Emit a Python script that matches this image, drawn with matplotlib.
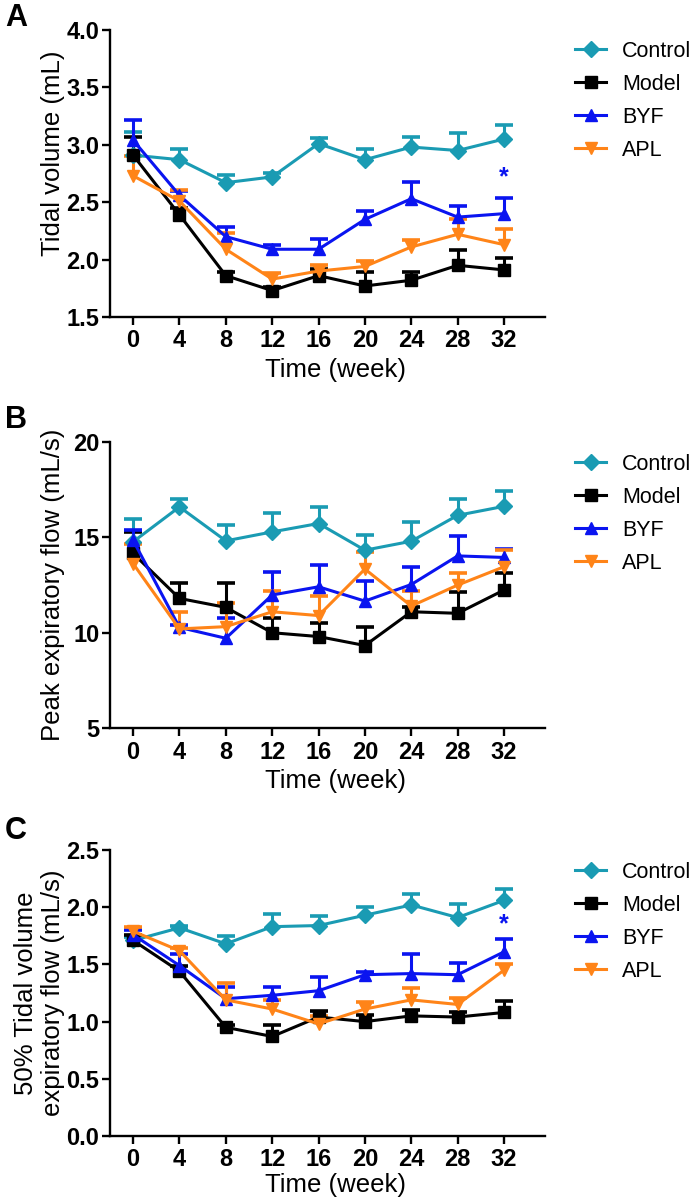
import numpy as np
import matplotlib
matplotlib.use('Agg')
import matplotlib.pyplot as plt

plt.rcParams['font.family'] = ['Liberation Sans', 'DejaVu Sans']

weeks = [0, 4, 8, 12, 16, 20, 24, 28, 32]
groups = ['Control', 'Model', 'BYF', 'APL']
colors = {'Control': '#1a9bb3', 'Model': '#000000', 'BYF': '#0a14f0', 'APL': '#ff8418'}
markers = {'Control': 'D', 'Model': 's', 'BYF': '^', 'APL': 'v'}

# panel A - tidal volume (mL), mean and top of error bar
tv_mean = {
    'Control': [2.91, 2.87, 2.67, 2.72, 3.01, 2.87, 2.98, 2.95, 3.05],
    'Model':   [2.91, 2.39, 1.86, 1.73, 1.86, 1.77, 1.82, 1.95, 1.91],
    'BYF':     [3.04, 2.56, 2.20, 2.09, 2.09, 2.35, 2.53, 2.37, 2.40],
    'APL':     [2.73, 2.51, 2.09, 1.83, 1.90, 1.94, 2.11, 2.22, 2.13],
}
tv_top = {
    'Control': [3.11, 2.96, 2.74, 2.75, 3.06, 2.96, 3.07, 3.10, 3.17],
    'Model':   [3.07, 2.45, 1.89, 1.76, 1.92, 1.89, 1.89, 2.08, 2.01],
    'BYF':     [3.22, 2.60, 2.28, 2.13, 2.18, 2.42, 2.68, 2.47, 2.54],
    'APL':     [2.90, 2.61, 2.23, 1.88, 1.95, 1.99, 2.17, 2.35, 2.27],
}

# panel B - peak expiratory flow (mL/s)
pef_mean = {
    'Control': [14.77, 16.60, 14.82, 15.29, 15.73, 14.33, 14.80, 16.16, 16.63],
    'Model':   [14.16, 11.80, 11.33, 10.00, 9.80, 9.33, 11.10, 11.02, 12.24],
    'BYF':     [14.85, 10.28, 9.71, 11.98, 12.41, 11.66, 12.53, 14.03, 13.95],
    'APL':     [13.63, 10.20, 10.32, 11.10, 10.90, 13.34, 11.40, 12.50, 13.46],
}
pef_top = {
    'Control': [15.99, 17.03, 15.64, 16.30, 16.60, 15.12, 15.81, 17.03, 17.44],
    'Model':   [15.29, 12.59, 12.59, 10.76, 10.49, 10.32, 11.37, 12.15, 13.11],
    'BYF':     [15.38, 10.40, 10.79, 13.16, 13.55, 12.73, 13.46, 15.08, 14.37],
    'APL':     [14.68, 11.10, 11.54, 12.20, 11.92, 14.24, 12.20, 13.11, 14.33],
}

# panel C - 50% tidal volume expiratory flow (mL/s)
ef50_mean = {
    'Control': [1.71, 1.82, 1.68, 1.83, 1.84, 1.93, 2.02, 1.91, 2.06],
    'Model':   [1.71, 1.44, 0.95, 0.87, 1.04, 1.00, 1.05, 1.04, 1.08],
    'BYF':     [1.76, 1.49, 1.20, 1.23, 1.27, 1.41, 1.42, 1.41, 1.61],
    'APL':     [1.79, 1.62, 1.19, 1.11, 0.98, 1.11, 1.19, 1.15, 1.45],
}
ef50_top = {
    'Control': [1.74, 1.84, 1.75, 1.94, 1.92, 2.00, 2.12, 2.03, 2.16],
    'Model':   [1.76, 1.49, 0.97, 0.97, 1.09, 1.06, 1.10, 1.08, 1.18],
    'BYF':     [1.80, 1.59, 1.30, 1.30, 1.39, 1.43, 1.59, 1.51, 1.72],
    'APL':     [1.83, 1.64, 1.34, 1.19, 1.05, 1.17, 1.29, 1.21, 1.50],
}

H = 1203.0
fig = plt.figure(figsize=(7, 12.03), dpi=100)
tick_font = ['Liberation Sans Narrow', 'Liberation Sans', 'DejaVu Sans']


def draw_panel(rect, means, tops, ylim, yticks, fmt, ylabel, letter, letter_y,
               star_y, leg_y, xlab_y, ylab_y=0.5):
    ax = fig.add_axes(rect)
    for g in groups:
        c = colors[g]
        m = np.array(means[g])
        t = np.array(tops[g])
        ax.vlines(weeks, m, t, color=c, lw=2.2, zorder=2)
        ax.plot(weeks, t, ls='none', marker='_', ms=13, mew=2.6, color=c, zorder=2)
        ax.plot(weeks, m, color=c, lw=2.2, marker=markers[g],
                ms=8.5 if g != 'Control' else 8, label=g, zorder=3)
    ax.set_xlim(-2, 35.5)
    ax.set_ylim(*ylim)
    ax.set_xticks(weeks)
    ax.set_yticks(yticks)
    ax.set_yticklabels([fmt.format(v) for v in yticks])
    for sp in ['top', 'right']:
        ax.spines[sp].set_visible(False)
    for sp in ['left', 'bottom']:
        ax.spines[sp].set_linewidth(1.7)
    ax.tick_params(direction='out', length=6, width=1.7, labelsize=17)
    ax.tick_params(axis='y', pad=1.5)
    ax.tick_params(axis='x', pad=3)
    for lab in ax.get_xticklabels() + ax.get_yticklabels():
        lab.set_fontweight('bold')
        lab.set_family(tick_font)
    ax.set_xlabel('Time (week)', fontsize=18.5, labelpad=0)
    ax.xaxis.set_label_coords(0.52, xlab_y)
    ax.set_ylabel(ylabel, fontsize=18.5, linespacing=1.15)
    ax.yaxis.set_label_coords(-0.104, ylab_y)
    if star_y is not None:
        ax.text(32, star_y, '*', color=colors['BYF'], fontsize=18,
                fontweight='bold', ha='center', va='center')
    fig.text(0.007, 1 - letter_y / H, letter, fontsize=22,
             fontweight='bold', va='center', ha='left')
    ax.legend(loc='upper left', bbox_to_anchor=(575 / 700, leg_y),
              bbox_transform=fig.transFigure, frameon=False, fontsize=15.5,
              handlelength=1.45, handletextpad=0.75, labelspacing=0.55,
              borderpad=0, borderaxespad=0)
    return ax


axA = draw_panel([0.157, 0.7365, 0.621, 0.2386], tv_mean, tv_top, (1.5, 4.0),
                 [1.5, 2.0, 2.5, 3.0, 3.5, 4.0], '{:.1f}', 'Tidal volume (mL)',
                 'A', 18, 2.72, (H - 41) / H, -0.143, ylab_y=0.57)

axB = draw_panel([0.157, 0.3948, 0.621, 0.2377], pef_mean, pef_top, (5, 20),
                 [5, 10, 15, 20], '{:d}', 'Peak expiratory flow (mL/s)',
                 'B', 420, None, (H - 454) / H, -0.143)

axC = draw_panel([0.157, 0.0557, 0.621, 0.2377], ef50_mean, ef50_top, (0.0, 2.5),
                 [0.0, 0.5, 1.0, 1.5, 2.0, 2.5], '{:.1f}',
                 '50% Tidal volume\nexpiratory flow (mL/s)',
                 'C', 831, 1.85, (H - 862) / H, -0.128)

fig.savefig('out.png', dpi=100)
